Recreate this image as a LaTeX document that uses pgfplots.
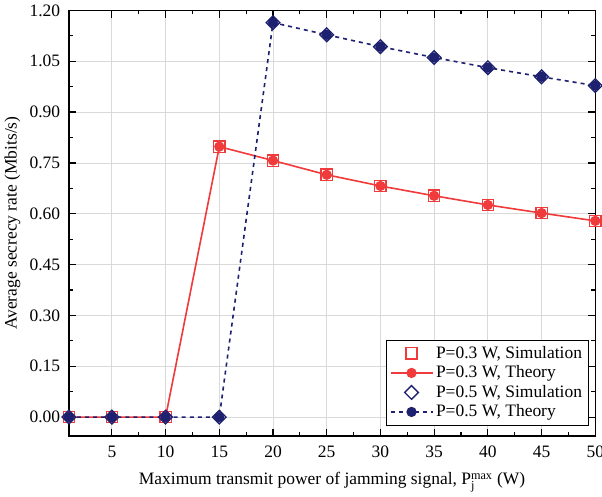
\documentclass[border=0pt]{standalone}
\usepackage{pgfplots}
\pgfplotsset{compat=1.18}
\usepackage{amsmath}
\usepackage{fontspec}
\setmainfont{Liberation Serif}
\definecolor{cred}{HTML}{EF3B3B}
\definecolor{cnavy}{HTML}{1E2170}
\begin{document}
\begin{tikzpicture}
\begin{axis}[
  name=ax,
  scale only axis,
  width=392pt, height=317pt,
  xmin=1, xmax=50, ymin=-0.056, ymax=1.20,
  xtick={5,10,...,50},
  ytick={0,0.15,...,1.21},
  minor x tick num=1, minor y tick num=1,
  tick align=inside,
  major tick length=5.5pt, minor tick length=3pt,
  axis line style={line width=1.1pt},
  every tick/.style={black, line width=0.9pt},
  grid=major,
  major grid style={draw=gray!30, line width=0.6pt},
  /pgf/number format/assume math mode=true,
  ticklabel style={font=\fontsize{13}{15}\selectfont},
  label style={font=\fontsize{13}{15}\selectfont},
  xticklabel style={yshift=-4pt},
  yticklabel style={xshift=-3pt, /pgf/number format/.cd, fixed, fixed zerofill, precision=2},
  xlabel={Maximum transmit power of jamming signal, P$_{\text{j}}^{\text{max}}$ (W)},
  ylabel={Average secrecy rate (Mbits/s)},
  xlabel style={yshift=-4pt},
  legend style={at={(rel axis cs:0.987,0.025)}, anchor=south east,
    font=\fontsize{13}{15}\selectfont, draw=black, line width=0.6pt,
    row sep=0pt, inner sep=2.5pt},
  legend cell align=left,
  legend image code/.code={
    \draw[mark repeat=2,mark phase=2] plot coordinates {(0cm,0cm) (0.55cm,0cm) (1.1cm,0cm)};},
  clip=false,
]
\addplot[only marks, mark=square, mark size=4.2pt, draw=cred, line width=1pt, fill=none]
  coordinates {(1,0) (5,0) (10,0) (15,0.798) (20,0.757) (25,0.715) (30,0.682) (35,0.653) (40,0.626) (45,0.602) (50,0.579)};
\addlegendentry{P=0.3 W, Simulation}
\addplot[cred, line width=1.2pt, mark=*, mark size=3.2pt, mark options={solid, fill=cred}]
  coordinates {(1,0) (5,0) (10,0) (15,0.798) (20,0.757) (25,0.715) (30,0.682) (35,0.653) (40,0.626) (45,0.602) (50,0.579)};
\addlegendentry{P=0.3 W, Theory}
\addplot[only marks, mark=square, mark size=3.6pt, mark options={rotate=45}, draw=cnavy, line width=1pt, fill=none]
  coordinates {(1,0) (5,0) (10,0) (15,0) (20,1.164) (25,1.128) (30,1.093) (35,1.061) (40,1.031) (45,1.004) (50,0.978)};
\addlegendentry{P=0.5 W, Simulation}
\addplot[cnavy, line width=1.2pt, dashed, mark=*, mark size=3.2pt, mark options={solid, fill=cnavy}]
  coordinates {(1,0) (5,0) (10,0) (15,0) (20,1.164) (25,1.128) (30,1.093) (35,1.061) (40,1.031) (45,1.004) (50,0.978)};
\addlegendentry{P=0.5 W, Theory}
\end{axis}
\pgfresetboundingbox
\path (ax.outer south west) rectangle ([xshift=5pt]ax.north east |- ax.outer north east);
\end{tikzpicture}
\end{document}
